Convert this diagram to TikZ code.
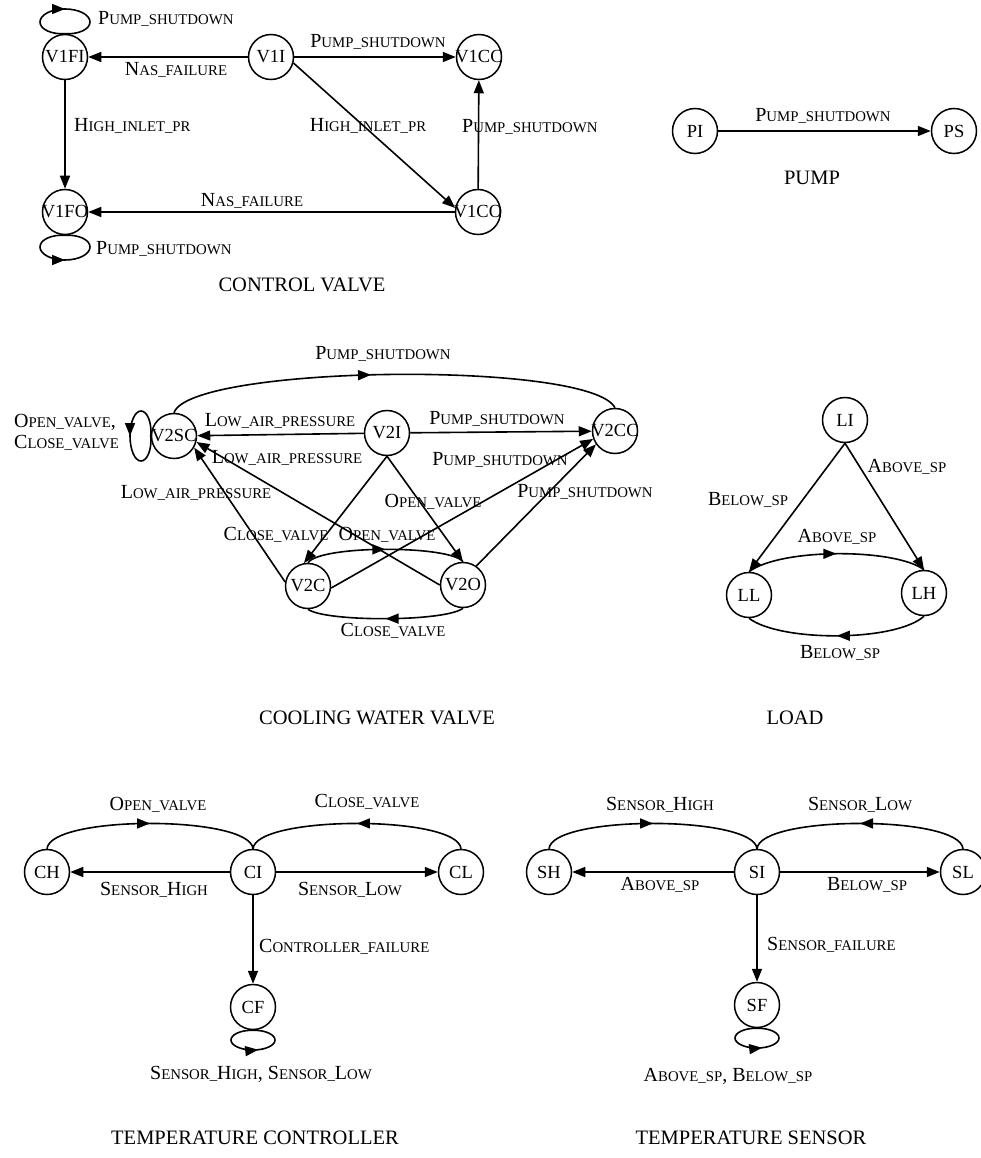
\documentclass[tikz,border=0pt]{standalone}
\usepackage{fontspec}
\setmainfont{Liberation Serif}
\usetikzlibrary{arrows.meta,decorations.markings}
% faked small capitals for the event names
\newcommand\sm[1]{{\fontsize{14.8}{16}\selectfont #1}}
% state name set without width so that long names run over the circle
\newcommand\nm[1]{\makebox[0pt]{#1}}
\tikzset{
  st/.style={circle, draw, line width=1.5pt, minimum size=45pt, inner sep=0pt,
             font=\fontsize{18.5}{20}\selectfont},
  tr/.style={line width=1.6pt, -{Triangle[length=13pt,width=10pt]}},
  mid/.style={line width=1.6pt, postaction={decorate},
              decoration={markings, mark=at position #1 with {\arrow{Triangle[length=13pt,width=10pt]}}}},
  mid/.default=0.5,
  lbl/.style={font=\fontsize{20}{21}\selectfont, inner sep=0pt},
  ttl/.style={font=\fontsize{20.5}{22}\selectfont, inner sep=0pt},
}
\begin{document}
\begin{tikzpicture}[x=1pt,y=-1pt]
\useasboundingbox (0,0) rectangle (980,1158);

% ---------------- control valve ----------------
\node[st] (V1FI) at (65,57)  {\nm{V1FI}};
\node[st] (V1I)  at (271,57) {\nm{V1I}};
\node[st] (V1CC) at (479,57) {\nm{V1CC}};
\node[st] (V1FO) at (65,212) {\nm{V1FO}};
\node[st] (V1CO) at (478,212){\nm{V1CO}};

\draw[tr] (V1I) -- (V1FI);
\draw[tr] (V1I) -- (V1CC);
\draw[tr] (V1FI) -- (V1FO);
\draw[tr] (V1I.-15) -- (V1CO.170);
\draw[tr] (V1CO) -- (V1FO);
\draw[tr] (V1CO) -- (V1CC);
% self loops
\draw[mid] (V1FI.north) .. controls (51.2,34.5) and (40,29.2) .. (40,22)
  .. controls (40,14.8) and (51.2,9) .. (65,9)
  .. controls (78.8,9) and (90,14.8) .. (90,22)
  .. controls (90,29.2) and (78.8,34.5) .. (V1FI.north);
\draw[mid] (V1FO.south) .. controls (51.2,234.5) and (40,239.8) .. (40,247)
  .. controls (40,254.2) and (51.2,260) .. (65,260)
  .. controls (78.8,260) and (90,254.2) .. (90,247)
  .. controls (90,239.8) and (78.8,234.5) .. (V1FO.south);

\node[lbl,anchor=west] (l1) at (98,19)  {P\sm{UMP\_SHUTDOWN}};
\node[lbl] (l2) at (176,70)  {N\sm{AS\_FAILURE}};
\node[lbl] (l3) at (378,42)  {P\sm{UMP\_SHUTDOWN}};
\node[lbl,anchor=west] (l4) at (74,126) {H\sm{IGH\_INLET\_PR}};
\node[lbl] (l5) at (368,126) {H\sm{IGH\_INLET\_PR}};
\node[lbl,anchor=west] (l6) at (462,127) {P\sm{UMP\_SHUTDOWN}};
\node[lbl] (l7) at (252,201) {N\sm{AS\_FAILURE}};
\node[lbl,anchor=west] (l8) at (96,249) {P\sm{UMP\_SHUTDOWN}};
\node[ttl] (t1) at (302,285) {CONTROL VALVE};

% ---------------- pump ----------------
\node[st] (PI) at (695,131) {\nm{PI}};
\node[st] (PS) at (954,131) {\nm{PS}};
\draw[tr] (PI) -- (PS);
\node[lbl] (l9) at (823,116) {P\sm{UMP\_SHUTDOWN}};
\node[ttl] (t2) at (812,178) {PUMP};

% ---------------- cooling water valve ----------------
\node[st] (V2SC) at (174,436) {\nm{V2SC}};
\node[st] (V2I)  at (387,433) {\nm{V2I}};
\node[st] (V2CC) at (615,431) {\nm{V2CC}};
\node[st] (V2C)  at (308,586) {\nm{V2C}};
\node[st] (V2O)  at (463,585) {\nm{V2O}};

\draw[mid=0.45] (V2SC.north) .. controls (190,365) and (590,360) .. (V2CC.north);
\draw[tr] (V2I) -- (V2SC);
\draw[tr] (V2I) -- (V2CC);
\draw[tr] (V2O.180) -- (V2SC.-15);
\draw[tr] (V2C.170) -- (V2SC.-30);
\draw[tr] (V2C.-5) -- (V2CC.200);
\draw[tr] (V2O.55) -- (V2CC.215);
\draw[tr] (V2I.south) -- (V2C.100);
\draw[tr] (V2I.south) -- (V2O.north);
\draw[mid] (V2C.north) .. controls (320,545) and (450,545) .. (V2O.north);
\draw[mid] (V2O.south) .. controls (445,622) and (325,622) .. (V2C.south);
\draw[mid] (V2SC.west) .. controls (152,422.2) and (147.1,411) .. (141,411)
  .. controls (134.9,411) and (130,422.2) .. (130,436)
  .. controls (130,449.8) and (134.9,461) .. (141,461)
  .. controls (147.1,461) and (152,449.8) .. (V2SC.west);

\node[lbl,anchor=east,align=left] (l10) at (119,432) {O\sm{PEN\_VALVE},\\C\sm{LOSE\_VALVE}};
\node[lbl] (l11) at (280,421) {L\sm{OW\_AIR\_PRESSURE}};
\node[lbl] (l12) at (287,458) {L\sm{OW\_AIR\_PRESSURE}};
\node[lbl] (l13) at (196,493) {L\sm{OW\_AIR\_PRESSURE}};
\node[lbl] (l14) at (383,354) {P\sm{UMP\_SHUTDOWN}};
\node[lbl] (l15) at (497,419) {P\sm{UMP\_SHUTDOWN}};
\node[lbl] (l16) at (500,460) {P\sm{UMP\_SHUTDOWN}};
\node[lbl] (l17) at (585,492) {P\sm{UMP\_SHUTDOWN}};
\node[lbl] (l18) at (433,502) {O\sm{PEN\_VALVE}};
\node[lbl] (l19) at (276,535) {C\sm{LOSE\_VALVE}};
\node[lbl] (l20) at (387,535) {O\sm{PEN\_VALVE}};
\node[lbl] (l21) at (393,631) {C\sm{LOSE\_VALVE}};
\node[ttl] (t3) at (377,718) {COOLING WATER VALVE};

% ---------------- load ----------------
\node[st] (LI) at (845,420) {\nm{LI}};
\node[st] (LL) at (749,595) {\nm{LL}};
\node[st] (LH) at (924,593) {\nm{LH}};
\draw[tr] (LI.south) -- (LL.north);
\draw[tr] (LI.south) -- (LH.north);
\draw[mid] (LL.north) .. controls (780,548) and (895,548) .. (LH.north);
\draw[mid] (LH.south) .. controls (895,642) and (780,642) .. (LL.south);
\node[lbl] (l22) at (748,500) {B\sm{ELOW\_SP}};
\node[lbl] (l23) at (907,467) {A\sm{BOVE\_SP}};
\node[lbl] (l24) at (837,537) {A\sm{BOVE\_SP}};
\node[lbl] (l25) at (840,653) {B\sm{ELOW\_SP}};
\node[ttl] (t4) at (795,718) {LOAD};

% ---------------- temperature controller ----------------
\node[st] (CH) at (47,872)  {\nm{CH}};
\node[st] (CI) at (253,872) {\nm{CI}};
\node[st] (CL) at (461,872) {\nm{CL}};
\node[st] (CF) at (253,1007){\nm{CF}};
\draw[tr] (CI) -- (CH);
\draw[tr] (CI) -- (CL);
\draw[tr] (CI) -- (CF);
\draw[mid] (CH.north) .. controls (50,815) and (250,815) .. (CI.north);
\draw[mid] (CL.north) .. controls (458,815) and (256,815) .. (CI.north);
\draw[mid=0.55] (CF.south) .. controls (240.8,1030) and (231,1034.5) .. (231,1040)
  .. controls (231,1045.5) and (240.8,1050) .. (253,1050)
  .. controls (265.2,1050) and (275,1045.5) .. (275,1040)
  .. controls (275,1034.5) and (265.2,1030) .. (CF.south);
\node[lbl] (l26) at (158,805) {O\sm{PEN\_VALVE}};
\node[lbl] (l27) at (367,802) {C\sm{LOSE\_VALVE}};
\node[lbl] (l28) at (154,890) {S\sm{ENSOR\_}H\sm{IGH}};
\node[lbl] (l29) at (350,890) {S\sm{ENSOR\_}L\sm{OW}};
\node[lbl,anchor=west] (l30) at (259,947) {C\sm{ONTROLLER\_FAILURE}};
\node[lbl] (l31) at (261,1074) {S\sm{ENSOR\_}H\sm{IGH}, S\sm{ENSOR\_}L\sm{OW}};
\node[ttl] (t5) at (255,1138) {TEMPERATURE CONTROLLER};

% ---------------- temperature sensor ----------------
\node[st] (SH) at (549,872) {\nm{SH}};
\node[st] (SI) at (757,872) {\nm{SI}};
\node[st] (SL) at (963,872) {\nm{SL}};
\node[st] (SF) at (757,1005){\nm{SF}};
\draw[tr] (SI) -- (SH);
\draw[tr] (SI) -- (SL);
\draw[tr] (SI) -- (SF);
\draw[mid] (SH.north) .. controls (552,815) and (754,815) .. (SI.north);
\draw[mid] (SL.north) .. controls (960,815) and (760,815) .. (SI.north);
\draw[mid=0.55] (SF.south) .. controls (744.8,1028) and (735,1032.5) .. (735,1038)
  .. controls (735,1043.5) and (744.8,1048) .. (757,1048)
  .. controls (769.2,1048) and (779,1043.5) .. (779,1038)
  .. controls (779,1032.5) and (769.2,1028) .. (SF.south);
\node[lbl] (l32) at (660,805) {S\sm{ENSOR\_}H\sm{IGH}};
\node[lbl] (l33) at (860,805) {S\sm{ENSOR\_}L\sm{OW}};
\node[lbl] (l34) at (660,885) {A\sm{BOVE\_SP}};
\node[lbl] (l35) at (867,885) {B\sm{ELOW\_SP}};
\node[lbl,anchor=west] (l36) at (767,945) {S\sm{ENSOR\_FAILURE}};
\node[lbl] (l37) at (728,1076) {A\sm{BOVE\_SP}, B\sm{ELOW\_SP}};
\node[ttl] (t6) at (751,1138) {TEMPERATURE SENSOR};
\end{tikzpicture}
\end{document}
